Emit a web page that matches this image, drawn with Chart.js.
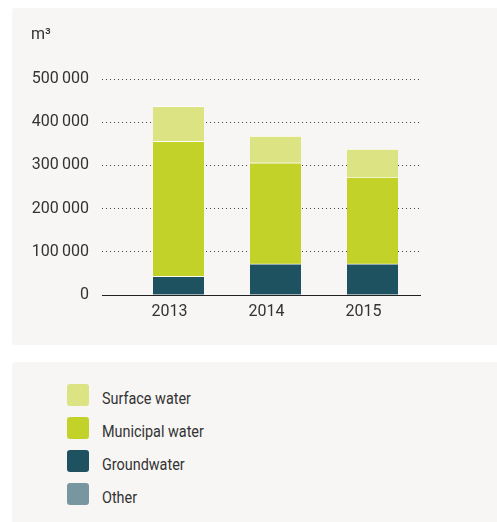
<!DOCTYPE html>
<html>
<head>
<meta charset="utf-8">
<script src="https://cdn.jsdelivr.net/npm/chart.js@4/dist/chart.umd.min.js"></script>
<style>
  html, body { margin: 0; padding: 0; background: #ffffff; }
  body { width: 497px; height: 522px; position: relative; overflow: hidden; font-family: Roboto, sans-serif; color: #333; }
  .panel { position: absolute; background: #f7f6f4; border-radius: 3px; }
  #chartPanel { left: 12px; top: 8px; width: 490px; height: 337px; }
  #legendPanel { left: 12px; top: 362px; width: 490px; height: 170px; }
  #wrap { position: absolute; left: 0; top: 0; width: 497px; height: 345px; }
  #legend { position: absolute; left: 67px; top: 384px; }
  .item { position: relative; height: 33px; }
  .box { position: absolute; left: 0; top: 0; width: 22px; height: 22px; border-radius: 3px; }
  .lbl { position: absolute; left: 35px; top: 4px; font-size: 16px; line-height: 22px; white-space: nowrap; transform: scaleX(0.9); transform-origin: 0 50%; }
</style>
</head>
<body>
<div class="panel" id="chartPanel"></div>
<div class="panel" id="legendPanel"></div>
<div id="wrap"><canvas id="c"></canvas></div>
<div id="legend"></div>
<script>
// ---- data ----
const years = ['2013', '2014', '2015'];
const otherWater = [0, 0, 0];
const groundwater = [43000, 72000, 72000];
const municipalWater = [313000, 234000, 201000];
const surfaceWater = [81000, 62000, 65000];
const yTickValues = [0, 100000, 200000, 300000, 400000, 500000];
const yTickLabels = ['0', '100\u2009000', '200\u2009000', '300\u2009000', '400\u2009000', '500\u2009000'];
const unitLabel = 'm³';

const seriesNames = ['Other', 'Groundwater', 'Municipal water', 'Surface water'];
const seriesColors = ['#7896a0', '#1e5261', '#c2d229', '#dbe382'];
const seriesData = [otherWater, groundwater, municipalWater, surfaceWater];

const FONT = 'Roboto, sans-serif';
const TEXT = '#333333';

const datasets = seriesData.map((d, i) => ({
  label: seriesNames[i],
  data: d,
  backgroundColor: seriesColors[i],
  borderColor: 'rgba(255,255,255,0.8)',
  borderWidth: { top: 1, left: 0, right: 0, bottom: 0 },
  borderSkipped: false,
  barThickness: 51
}));

const isZero = ctx => ctx.tick && ctx.tick.value === 0;

new Chart(document.getElementById('c'), {
  type: 'bar',
  data: { labels: years, datasets },
  options: {
    responsive: true,
    maintainAspectRatio: false,
    animation: false,
    layout: { padding: { left: 31, right: 76, top: 25, bottom: 0 } },
    plugins: {
      legend: { display: false },
      tooltip: { enabled: false },
      title: {
        display: true,
        text: unitLabel,
        align: 'start',
        color: TEXT,
        font: { family: FONT, size: 16, weight: 'normal', lineHeight: 1.25 },
        padding: { top: 0, bottom: 34 }
      }
    },
    scales: {
      x: {
        stacked: true,
        grid: { display: false },
        border: { display: false },
        ticks: { color: TEXT, font: { family: FONT, size: 16 }, padding: -1, labelOffset: -9, maxRotation: 0 },
        afterFit: s => { s.height = 50; }
      },
      y: {
        stacked: true,
        min: 0,
        max: 500000,
        afterBuildTicks: s => { s.ticks = yTickValues.map(v => ({ value: v })); },
        border: { display: false, dash: ctx => isZero(ctx) ? [] : [1, 3] },
        grid: {
          color: ctx => isZero(ctx) ? '#222222' : '#444444',
          lineWidth: 1,
          drawTicks: true,
          tickLength: 28,
          tickColor: ctx => isZero(ctx) ? '#222222' : '#444444',
          tickWidth: 1,
          tickBorderDash: ctx => isZero(ctx) ? [] : [1, 3]
        },
        ticks: {
          color: TEXT,
          font: { family: FONT, size: 16 },
          padding: 13,
          callback: (v) => { const i = yTickValues.indexOf(v); return i >= 0 ? yTickLabels[i] : ''; }
        },
        afterFit: s => { s.width = 99; }
      }
    }
  }
});

// HTML legend built from the series arrays (top-to-bottom reverse of stacking)
const legend = document.getElementById('legend');
for (let i = seriesNames.length - 1; i >= 0; i--) {
  const it = document.createElement('div');
  it.className = 'item';
  const b = document.createElement('div');
  b.className = 'box';
  b.style.background = seriesColors[i];
  const t = document.createElement('div');
  t.className = 'lbl';
  t.textContent = seriesNames[i];
  it.appendChild(b); it.appendChild(t);
  legend.appendChild(it);
}
</script>
</body>
</html>
